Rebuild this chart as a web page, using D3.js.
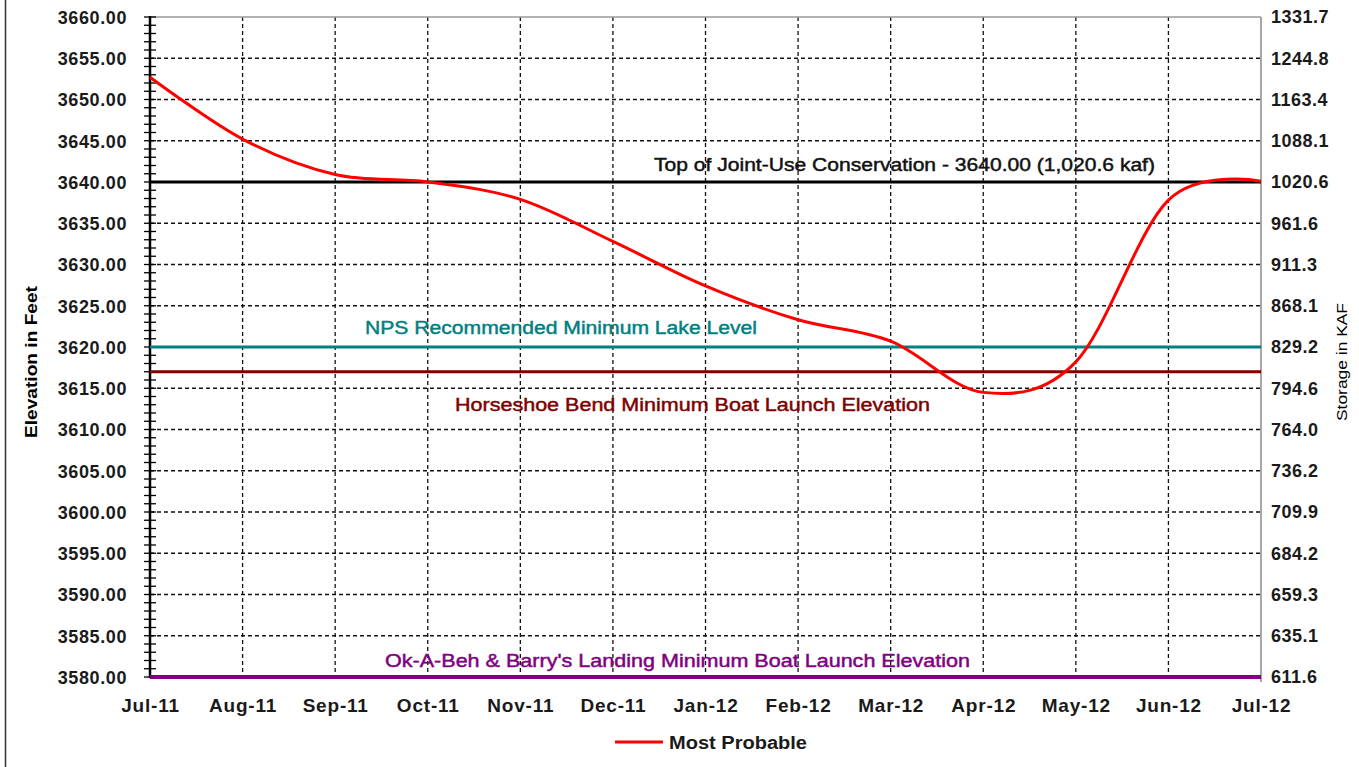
<!DOCTYPE html>
<html>
<head>
<meta charset="utf-8">
<script src="https://cdn.jsdelivr.net/npm/d3@7/dist/d3.min.js"></script>
<style>
html,body{margin:0;padding:0;background:#fff;}
svg{display:block;font-family:"Liberation Sans",Arial,sans-serif;}
</style>
</head>
<body>
<svg id="chart" width="1359" height="767"></svg>
<script>
// ---- data ----
const months = ["Jul-11","Aug-11","Sep-11","Oct-11","Nov-11","Dec-11","Jan-12","Feb-12","Mar-12","Apr-12","May-12","Jun-12","Jul-12"];
const mostProbable = [3652.7, 3645.2, 3640.9, 3640.0, 3637.9, 3632.8, 3627.4, 3623.3, 3620.7, 3614.5, 3618.2, 3637.8, 3640.1];
const elevTicks = [3580,3585,3590,3595,3600,3605,3610,3615,3620,3625,3630,3635,3640,3645,3650,3655,3660];
const storageLabels = ["611.6","635.1","659.3","684.2","709.9","736.2","764.0","794.6","829.2","868.1","911.3","961.6","1020.6","1088.1","1163.4","1244.8","1331.7"];
const refNames = ["Top of Joint-Use Conservation - 3640.00 (1,020.6 kaf)","NPS Recommended Minimum Lake Level","Horseshoe Bend Minimum Boat Launch Elevation","Ok-A-Beh & Barry's Landing Minimum Boat Launch Elevation"];
const refValues = [3640, 3620, 3617, 3580];
const seriesName = "Most Probable";

// ---- layout ----
const L = 150, R = 1261, T = 17, B = 677;
const svg = d3.select("#chart");
const x = d3.scalePoint().domain(months).range([L, R]);
const y = d3.scaleLinear().domain([3580, 3660]).range([B, T]);

// outer frame left line
svg.append("line").attr("x1",5.5).attr("x2",5.5).attr("y1",0).attr("y2",767).attr("stroke","#333").attr("stroke-width",1.5);

// grid
const grid = svg.append("g");
grid.selectAll(".hg").data(elevTicks.filter(v => v > 3580 && v < 3660)).join("line")
  .attr("x1", L).attr("x2", R).attr("y1", d => y(d)).attr("y2", d => y(d))
  .attr("stroke", "#111").attr("stroke-width", 1.3).attr("stroke-dasharray", "4,3");
grid.selectAll(".vg").data(months.slice(1, -1)).join("line")
  .attr("x1", d => x(d)).attr("x2", d => x(d)).attr("y1", T).attr("y2", B + 5)
  .attr("stroke", "#111").attr("stroke-width", 1.3).attr("stroke-dasharray", "4,3");

// plot border top/right
svg.append("line").attr("x1", L).attr("x2", R).attr("y1", T).attr("y2", T).attr("stroke", "#9a9a9a").attr("stroke-width", 1.5);
svg.append("line").attr("x1", R).attr("x2", R).attr("y1", T).attr("y2", B + 5).attr("stroke", "#8a8a8a").attr("stroke-width", 1.5);

// left axis
const yAxis = d3.axisLeft(y).tickValues(elevTicks).tickFormat(d3.format(".2f")).tickSize(0).tickPadding(23);
const ga = svg.append("g").attr("transform", `translate(${L},0)`).call(yAxis);
ga.select(".domain").remove();
ga.selectAll("text").attr("font-size", 18).attr("font-weight", "bold").attr("fill", "#1a1a1a")
  .attr("font-family", "Liberation Sans, Arial, sans-serif").attr("dy", "0.36em")
  .attr("letter-spacing", "0.6px");
// minor ticks (every 1 ft) crossing the axis
const minor = d3.range(3580, 3661, 1);
svg.append("g").selectAll("line").data(minor).join("line")
  .attr("x1", L - 6).attr("x2", L + 6).attr("y1", d => y(d)).attr("y2", d => y(d))
  .attr("stroke", "#000").attr("stroke-width", 1.3);
svg.append("line").attr("x1", L).attr("x2", L).attr("y1", T - 1).attr("y2", B + 1).attr("stroke", "#000").attr("stroke-width", 2.5);

// right axis (storage labels at elevation gridlines)
svg.append("g").selectAll("text").data(elevTicks).join("text")
  .attr("x", R + 10).attr("y", d => y(d)).attr("dy", "0.36em")
  .attr("font-size", 18).attr("font-weight", "bold").attr("fill", "#1a1a1a").attr("letter-spacing", "0.5px")
  .text((d, i) => storageLabels[i]);

// bottom axis labels
const xAxis = d3.axisBottom(x).tickSize(0).tickPadding(22);
const gx = svg.append("g").attr("transform", `translate(0,${B})`).call(xAxis);
gx.select(".domain").remove();
gx.selectAll("text").attr("font-size", 19).attr("font-weight", "bold").attr("fill", "#1a1a1a")
  .attr("font-family", "Liberation Sans, Arial, sans-serif").attr("letter-spacing", "0.8px");

// reference lines
const refColors = ["#000000", "#008080", "#800000", "#800080"];
const refWidths = [3, 3, 3, 4];
svg.append("g").selectAll("line").data(refValues).join("line")
  .attr("x1", L).attr("x2", R).attr("y1", d => y(d)).attr("y2", d => y(d))
  .attr("stroke", (d, i) => refColors[i]).attr("stroke-width", (d, i) => refWidths[i]);

// reference labels
const refLabelPos = [[654, 1155, 171], [365, 757, 334], [455, 930, 411], [385, 970, 667]];
svg.append("g").selectAll("text").data(refNames).join("text")
  .attr("x", (d, i) => refLabelPos[i][0]).attr("y", (d, i) => refLabelPos[i][2])
  .attr("textLength", (d, i) => refLabelPos[i][1] - refLabelPos[i][0]).attr("lengthAdjust", "spacingAndGlyphs")
  .attr("font-size", 18).attr("fill", (d, i) => refColors[i] === "#000000" ? "#111" : refColors[i])
  .attr("stroke", (d, i) => refColors[i] === "#000000" ? "#111" : refColors[i]).attr("stroke-width", 0.45)
  .text(d => d);

// series line
const line = d3.line().x((d, i) => x(months[i])).y(d => y(d)).curve(d3.curveCardinal.tension(0));
svg.append("path").datum(mostProbable).attr("d", line).attr("fill", "none").attr("stroke", "#ff0000").attr("stroke-width", 3);

// axis titles
svg.append("text").attr("transform", "translate(37,362) rotate(-90)").attr("text-anchor", "middle")
  .attr("font-size", 17).attr("font-weight", "bold").attr("fill", "#000")
  .attr("textLength", 152).attr("lengthAdjust", "spacingAndGlyphs").text("Elevation in Feet");
svg.append("text").attr("transform", "translate(1347,362) rotate(-90)").attr("text-anchor", "middle")
  .attr("font-size", 15).attr("fill", "#000")
  .attr("textLength", 118).attr("lengthAdjust", "spacingAndGlyphs").text("Storage in KAF");

// legend
svg.append("line").attr("x1", 615).attr("x2", 663).attr("y1", 742).attr("y2", 742).attr("stroke", "#ff0000").attr("stroke-width", 3);
svg.append("text").attr("x", 669).attr("y", 749).attr("font-size", 18).attr("font-weight", "bold").attr("fill", "#1a1a1a")
  .attr("textLength", 138).attr("lengthAdjust", "spacingAndGlyphs").text(seriesName);
</script>
</body>
</html>
